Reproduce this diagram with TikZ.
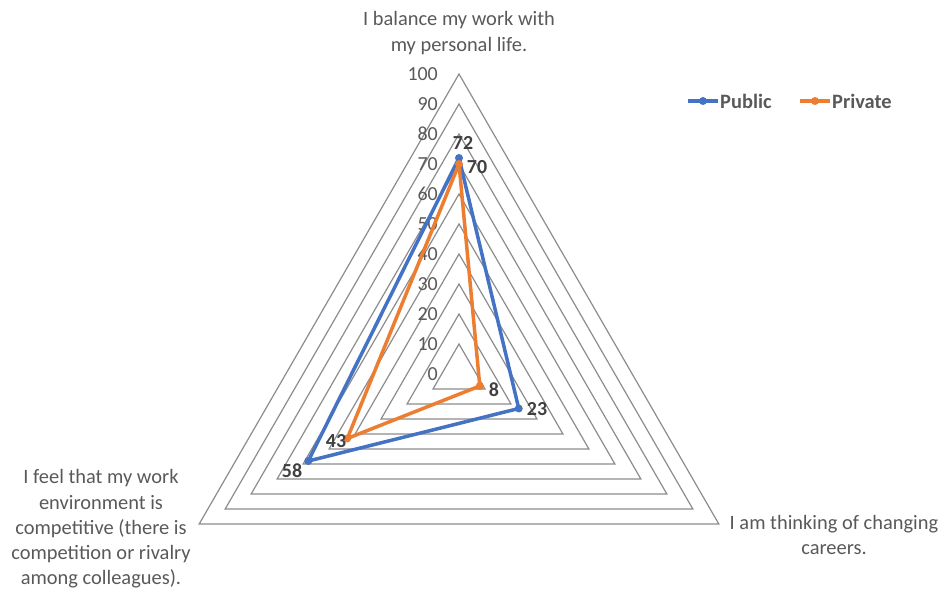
\documentclass[tikz,border=0pt]{standalone}
\usepackage{fontspec}
\setmainfont{Carlito}
\definecolor{gridgray}{HTML}{8C8C8C}
\definecolor{txtgray}{HTML}{595959}
\definecolor{valgray}{HTML}{404040}
\definecolor{pubblue}{HTML}{4472C4}
\definecolor{privorange}{HTML}{ED7D31}
\begin{document}
\begin{tikzpicture}[x=1bp,y=1bp,
 gridline/.style={draw=gridgray,line width=1.2bp},
 ticklbl/.style={anchor=east,text=txtgray,font=\fontsize{20}{23}\selectfont,inner sep=0pt},
 cat/.style={align=center,text=txtgray,font=\fontsize{20.5}{25.4}\selectfont,inner sep=0pt},
 val/.style={text=valgray,font=\bfseries\fontsize{20}{23}\selectfont,inner sep=0pt},
 pub/.style={draw=pubblue,line width=3.5bp,line join=round},
 priv/.style={draw=privorange,line width=3.5bp,line join=round},
 pubdot/.style={circle,fill=pubblue,inner sep=0pt,minimum size=8bp},
 privdot/.style={circle,fill=privorange,inner sep=0pt,minimum size=8bp},
 legtxt/.style={anchor=west,text=txtgray,font=\bfseries\fontsize{20.5}{23}\selectfont,inner sep=0pt}]
\useasboundingbox (0,0) rectangle (945,590);
\coordinate (C) at (459,216);
% grid
\foreach \k in {1,...,10}{
  \draw[gridline] ([shift={(90:\k*30)}]C) -- ([shift={(210:\k*30)}]C) -- ([shift={(330:\k*30)}]C) -- cycle;
}
% tick labels
\foreach \k in {0,...,10}{
  \pgfmathtruncatemacro{\v}{\k*10}
  \node[ticklbl] (t\k) at (438,216+\k*30) {\v};
}
% data points
\coordinate (pu1) at ([shift={(90:216)}]C);
\coordinate (pu2) at ([shift={(330:69)}]C);
\coordinate (pu3) at ([shift={(210:174)}]C);
\coordinate (pr1) at ([shift={(90:210)}]C);
\coordinate (pr2) at ([shift={(330:24)}]C);
\coordinate (pr3) at ([shift={(210:129)}]C);
\draw[pub] (pu1) -- (pu2) -- (pu3) -- cycle;
\foreach \p in {pu1,pu2,pu3}{\node[pubdot] at (\p) {};}
\draw[priv] (pr1) -- (pr2) -- (pr3) -- cycle;
\foreach \p in {pr1,pr2,pr3}{\node[privdot] at (\p) {};}
% value labels
\node[val] (l72) at (463,447) {72};
\node[val] (l70) at (477,423) {70};
\node[val] (l8) at (494,200) {8};
\node[val] (l23) at (537,181) {23};
\node[val] (l43) at (336,149) {43};
\node[val] (l58) at (292,119) {58};
% category labels
\node[cat] (c1) at (459,557) {I balance my work with\\my personal life.};
\node[cat] (c2) at (834,55) {I am thinking of changing\\careers.};
\node[cat] (c3) at (101,61) {I feel that my work\\environment is\\competitive (there is\\competition or rivalry\\among colleagues).};
% legend
\coordinate (lpa) at (688,489);
\coordinate (lpb) at (718,489);
\draw[pub] (lpa) -- (lpb);
\node[pubdot] (lpd) at (703,489) {};
\node[legtxt] (lpt) at (720,489) {Public};
\coordinate (lra) at (800,489);
\coordinate (lrb) at (830,489);
\draw[priv] (lra) -- (lrb);
\node[privdot] (lrd) at (815,489) {};
\node[legtxt] (lrt) at (832,489) {Private};
\end{tikzpicture}
\end{document}
